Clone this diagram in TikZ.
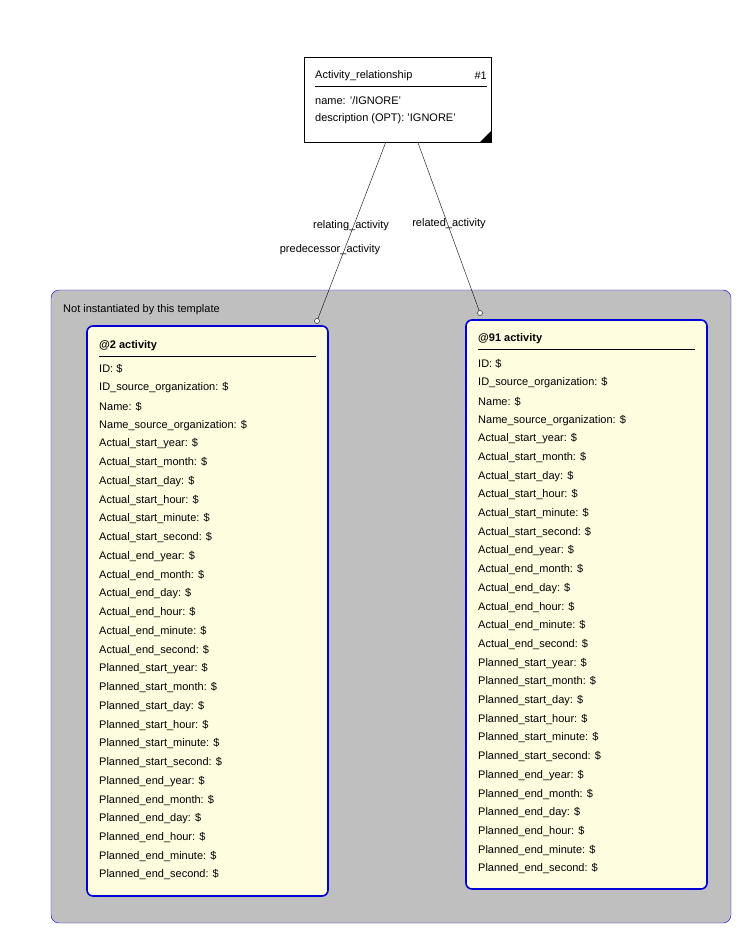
\documentclass[tikz,border=0pt]{standalone}
\usepackage{fontspec}
\setmainfont{Liberation Sans}
\tikzset{
  ent/.style={draw=blue!85!black, line width=1.6pt, rounded corners=6pt, fill=yellow!12},
  fld/.style={anchor=west, inner sep=0pt, font=\fontsize{11}{12}\selectfont},
  lbl/.style={inner sep=1pt, font=\fontsize{11}{12}\selectfont},
  endpt/.style={circle, draw, fill=white, inner sep=0pt, minimum size=5pt},
}
\begin{document}
\begin{tikzpicture}[x=1pt,y=-1pt]
      \useasboundingbox (0,0) rectangle (738,936);

      % gray region
      \fill[black!25, rounded corners=8pt] (51,290) rectangle (731,923);
      \draw[blue!85!black, rounded corners=8pt] (51,290) rectangle (731,923);
      \node[fld] at (63,310) {Not instantiated by this template};

      % top entity
      \node[draw, fill=white, minimum width=187pt, minimum height=85pt, inner sep=0pt] (rel) at (397.5,99.5) {};
      \fill (491,142) -- ++(0,-11) -- ++(-11,11) -- cycle;
      \node[fld] at (315,76) {Activity\_relationship};
      \node[fld, anchor=east] at (487,76) {\#1};
      \draw (315,86) -- (487,86);
      \node[fld] at (315,101) {name: '/IGNORE'};
      \node[fld] at (315,119) {description (OPT): 'IGNORE'};

      % activity boxes
      \def\fields{ID, ID\_source\_organization, Name, Name\_source\_organization,
        Actual\_start\_year, Actual\_start\_month, Actual\_start\_day, Actual\_start\_hour,
        Actual\_start\_minute, Actual\_start\_second, Actual\_end\_year, Actual\_end\_month,
        Actual\_end\_day, Actual\_end\_hour, Actual\_end\_minute, Actual\_end\_second,
        Planned\_start\_year, Planned\_start\_month, Planned\_start\_day, Planned\_start\_hour,
        Planned\_start\_minute, Planned\_start\_second, Planned\_end\_year, Planned\_end\_month,
        Planned\_end\_day, Planned\_end\_hour, Planned\_end\_minute, Planned\_end\_second}

      \draw[ent] (87,326) rectangle (328,896);
      \coordinate (act2) at (317,321);
      \node[fld, font=\bfseries\fontsize{11}{12}\selectfont] at (99,346) {@2 activity};
      \draw (99,356) -- (316,356);
      \foreach \f [count=\i from 0] in \fields
        \node[fld] at (99,369+18.74*\i) {\f: \$};

      \draw[ent] (466,320) rectangle (707,889);
      \coordinate (act91) at (480,313);
      \node[fld, font=\bfseries\fontsize{11}{12}\selectfont] at (478,339) {@91 activity};
      \draw (478,349) -- (695,349);
      \foreach \f [count=\i from 0] in \fields
        \node[fld] at (478,364+18.7*\i) {\f: \$};

      % connectors
      \draw (rel.south west) ++(82,0) coordinate (r1) -- (act2);
      \draw (rel.south west) ++(114,0) coordinate (r2) -- (act91);
      \node[endpt] at (act2) {};
      \node[endpt] at (act91) {};
      \node[lbl] at (351,226) {relating\_activity};
      \node[lbl] at (330,250) {predecessor\_activity};
      \node[lbl] at (449,224) {related\_activity};
    \end{tikzpicture}
\end{document}
